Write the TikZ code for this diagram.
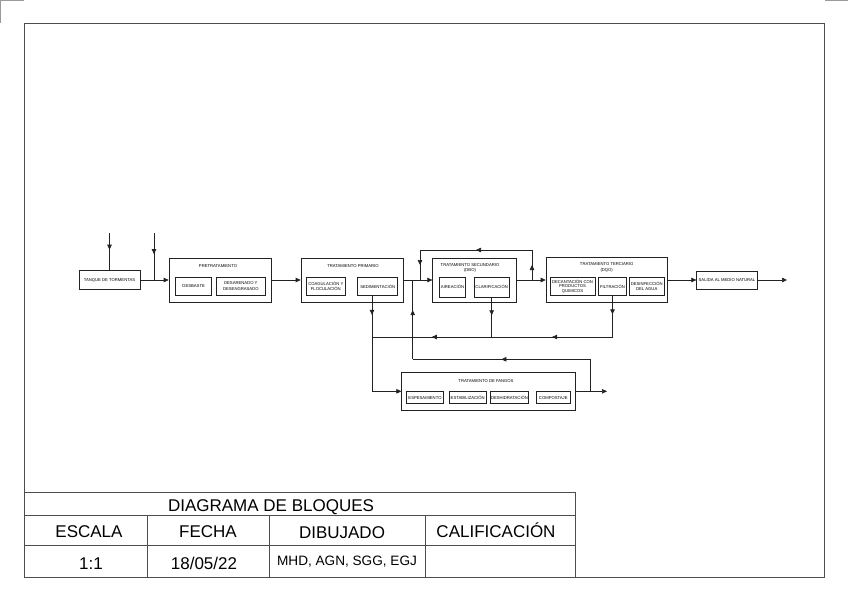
\documentclass[tikz,border=0pt]{standalone}
\usepackage{fontspec}
\setmainfont{Liberation Sans}
\usepackage{tikz}
\usetikzlibrary{arrows.meta,positioning,decorations.markings}
\usepackage{xcolor}
\definecolor{cline}{HTML}{222222}
\definecolor{cframe}{HTML}{4D4D4D}
\definecolor{ctrim}{HTML}{9A9A9A}

\begin{document}
\begin{tikzpicture}[
  x=1pt, y=-1pt,
  >={Triangle[length=5pt,width=4.5pt]},
  box/.style={draw=cline, line width=0.65pt, inner sep=0pt,
              font=\fontsize{4.2}{5.5}\selectfont, align=center},
  sub/.style={box, anchor=north},
  ttl/.style={inner sep=0pt, font=\fontsize{4.2}{5.5}\selectfont, align=center},
  wire/.style={draw=cline, color=cline, line width=0.65pt},
  flow/.style={wire, postaction={decorate},
               decoration={markings, mark=at position #1 with {\arrow{>}}}},
  flow/.default=0.5,
  frame/.style={draw=cframe, line width=0.9pt},
  trim/.style={draw=ctrim, line width=0.8pt},
  cell/.style={inner sep=0pt, anchor=base, font=\fontsize{17}{20}\selectfont},
  small cell/.style={cell, font=\fontsize{13.6}{16}\selectfont}
]
\useasboundingbox (0,0) rectangle (848,600);

\draw[trim] (0.7,23) -- (0.7,0.7) -- (24,0.7);
\draw[trim] (825,0.7) -- (848,0.7);
\draw[frame] (24,23.5) rectangle (824,577);

% bloques principales
\node[box, minimum width=61pt, minimum height=19pt] (tanque) at (109.5,280) {TANQUE DE TORMENTAS};

\node[box, minimum width=102pt, minimum height=44pt] (pre) at (220,280) {};
\node[ttl] (pre-t) at (218,266.5) {PRETRATAMIENTO};
\node[sub, minimum width=36pt, minimum height=18.3pt] (desbaste) at (193.7,276.8) {DESBASTE};
\node[sub, minimum width=48.3pt, minimum height=18.3pt] (desarenado) at (240.8,276.8) {DESARENADO Y\\DESENGRASADO};

\node[box, minimum width=102pt, minimum height=44pt] (prim) at (352,280) {};
\node[ttl] (prim-t) at (353,266.5) {TRATAMIENTO PRIMARIO};
\node[sub, minimum width=38.3pt, minimum height=18.3pt] (coagulacion) at (325.8,276.8) {COAGULACIÓN Y\\FLOCULACIÓN};
\node[sub, minimum width=40pt, minimum height=18.3pt] (sedimentacion) at (377.7,276.8) {SEDIMENTACIÓN};

\node[box, minimum width=84pt, minimum height=44pt] (sec) at (474.7,280) {};
\node[ttl] (sec-t) at (470,268) {TRATAMIENTO SECUNDARIO\\(DBO)};
\node[sub, minimum width=26.4pt, minimum height=20pt] (aireacion) at (452.5,276.8) {AIREACIÓN};
\node[sub, minimum width=35.3pt, minimum height=20pt] (clarificacion) at (491.7,276.8) {CLARIFICACIÓN};

\node[box, minimum width=121.7pt, minimum height=45pt] (ter) at (606.9,280) {};
\node[ttl] (ter-t) at (606.7,267.5) {TRATAMIENTO TERCIARIO\\(DQO)};
\node[sub, minimum width=45pt, minimum height=18.3pt, font=\fontsize{4.2}{4.7}\selectfont] (decantacion) at (572.5,276.8) {DECANTACIÓN CON\\PRODUCTOS\\QUIMICOS};
\node[sub, minimum width=28.4pt, minimum height=18.3pt] (filtracion) at (612.5,276.8) {FILTRACIÓN};
\node[sub, minimum width=34.7pt, minimum height=18.3pt] (desinfeccion) at (646.7,276.8) {DESINFECCIÓN\\DEL AGUA};

\node[box, minimum width=60.6pt, minimum height=18pt] (salida) at (727,280) {SALIDA AL MEDIO NATURAL};

\node[box, minimum width=174pt, minimum height=37.3pt] (fangos) at (488.7,391.3) {};
\node[ttl] (fangos-t) at (486,380.7) {TRATAMIENTO DE FANGOS};
\node[sub, minimum width=36.6pt, minimum height=12pt] (espesamiento) at (425,391.3) {ESPESAMIENTO};
\node[sub, minimum width=36.7pt, minimum height=12pt] (estabilizacion) at (467.7,391.3) {ESTABILIZACIÓN};
\node[sub, minimum width=37.6pt, minimum height=12pt] (deshidratacion) at (509.5,391.3) {DESHIDRATACIÓN};
\node[sub, minimum width=34.7pt, minimum height=12pt] (compostaje) at (553.3,391.3) {COMPOSTAJE};

% puntos de union
\coordinate (in1) at (109.5,233);
\coordinate (in2) at (154,233);
\coordinate (j1) at (154,280);
\coordinate (out1) at (787,280);
\coordinate (r0) at (532,280);
\coordinate (r1) at (532,250);
\coordinate (r2) at (420,250);
\coordinate (r3) at (420,280);
\coordinate (s0) at ([xshift=-5.7pt]sedimentacion.south);
\coordinate (s1) at (s0 |- fangos.west);
\coordinate (c1) at (372,337);
\coordinate (c2) at (clarificacion.south |- c1);
\coordinate (c3) at (filtracion.south |- c1);
\coordinate (out2) at (607,391.3);
\coordinate (f0) at (590,391.3);
\coordinate (f1) at (590,359.3);
\coordinate (f2) at (412.7,359.3);
\coordinate (f3) at (412.7,280);

% linea de agua
\draw[flow=0.45] (in1) -- (tanque.north);
\draw[flow=0.45] (in2) -- (j1);
\draw[wire, ->] (tanque) -- (pre);
\draw[wire, ->] (pre) -- (prim);
\draw[wire, ->] (prim) -- (sec);
\draw[wire, ->] (sec) -- (ter);
\draw[wire, ->] (ter) -- (salida);
\draw[wire, ->] (salida) -- (out1);

\draw[flow] (r0) -- (r1);
\draw[flow] (r1) -- (r2);
\draw[flow] (r2) -- (r3);

% linea de fangos
\draw[flow=0.2] (s0) -- (s1);
\draw[wire, ->] (s1) -- (fangos.west);
\draw[flow=0.45] (clarificacion.south) -- (c2);
\draw[flow=0.45] (filtracion.south) -- (c3);
\draw[flow] (c3) -- (c2);
\draw[flow] (c2) -- (c1);
\draw[wire, ->] (fangos.east) -- (out2);
\draw[wire] (f0) -- (f1);
\draw[flow] (f1) -- (f2);
\draw[flow=0.62] (f2) -- (f3);

% cajetin
\draw[frame] (24,492) -- (575,492) -- (575,577);
\draw[frame] (24,515) -- (575,515);
\draw[frame] (24,545) -- (575,545);
\foreach \x in {147,269,425}
  \draw[frame] (\x,515) -- (\x,577);

\node[cell] (titulo) at (271,511) {DIAGRAMA DE BLOQUES};
\node[cell] (escala) at (89,537) {ESCALA};
\node[cell] (fecha) at (208,537) {FECHA};
\node[cell] (dibujado) at (342,538) {DIBUJADO};
\node[cell] (calif) at (496,537) {CALIFICACIÓN};
\node[cell] (v-escala) at (91,569) {1:1};
\node[cell] (v-fecha) at (204,569) {18/05/22};
\node[small cell] (v-dibujado) at (347,565) {MHD, AGN, SGG, EGJ};
\end{tikzpicture}
\end{document}
